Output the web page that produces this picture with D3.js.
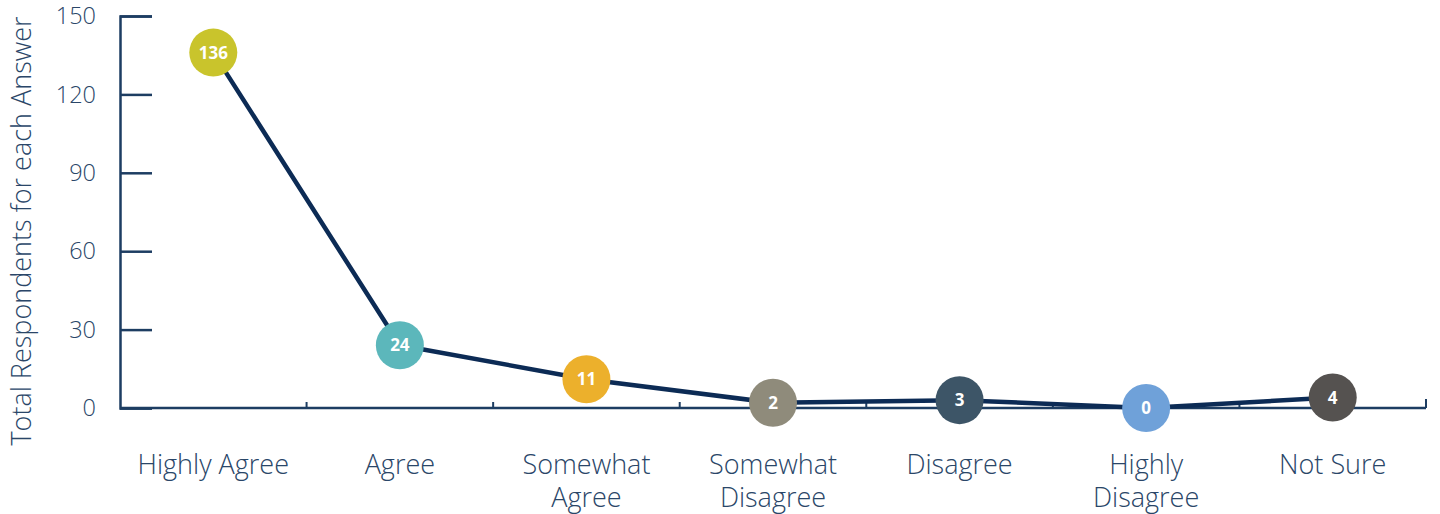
<!DOCTYPE html>
<html>
<head>
<meta charset="utf-8">
<script src="https://cdn.jsdelivr.net/npm/d3@7"></script>
<style>
  html, body { margin: 0; padding: 0; background: #ffffff; }
  svg { display: block; }
  text { font-family: "Open Sans", "Noto Sans", sans-serif; }
</style>
</head>
<body>
<svg id="chart" width="1440" height="514"></svg>
<script>
// Survey answers and counts
const categories = [
  ["Highly Agree"],
  ["Agree"],
  ["Somewhat", "Agree"],
  ["Somewhat", "Disagree"],
  ["Disagree"],
  ["Highly", "Disagree"],
  ["Not Sure"]
];
const respondents = [136, 24, 11, 2, 3, 0, 4];
const dotColors = ["#c9c42c", "#5cb7bb", "#ecb02c", "#8f8b7b", "#3d5567", "#6fa1d9", "#555250"];
const yTicks = [0, 30, 60, 90, 120, 150];
const yTitle = "Total Respondents for each Answer";

const axisColor = "#1d3d62";
const textColor = "#2a4668";
const lineColor = "#0c2b55";

const svg = d3.select("#chart");
const margin = { left: 120 };

const keys = categories.map(c => c.join(" "));
const x = d3.scaleBand().domain(keys).range([margin.left, 1426]).padding(0);
const y = d3.scaleLinear().domain([0, 150]).range([408, 16]);

// Y axis: ticks drawn inward toward the plot
const yAxis = svg.append("g")
  .attr("transform", `translate(${margin.left},0)`)
  .call(d3.axisRight(y).tickValues(yTicks).tickSize(32).tickFormat(""));
yAxis.select(".domain").attr("stroke", axisColor).attr("stroke-width", 2.5);
yAxis.selectAll(".tick line").attr("stroke", axisColor).attr("stroke-width", 2.5);

svg.append("g").selectAll("text")
  .data(yTicks)
  .join("text")
  .attr("x", 96)
  .attr("y", d => y(d))
  .attr("dy", "0.35em")
  .attr("text-anchor", "end")
  .attr("fill", textColor)
  .attr("font-size", 23.5)
  .attr("font-weight", 300)
  .text(d => d);

// X axis: baseline with short upward ticks at band boundaries
const boundaries = keys.slice(1).map(k => x(k)).concat([x.range()[1]]);
svg.append("line")
  .attr("x1", margin.left).attr("x2", x.range()[1])
  .attr("y1", y(0)).attr("y2", y(0))
  .attr("stroke", axisColor).attr("stroke-width", 2.5);
svg.append("g").selectAll("line")
  .data(boundaries)
  .join("line")
  .attr("x1", d => d).attr("x2", d => d)
  .attr("y1", y(0)).attr("y2", (d, i) => y(0) - (i === boundaries.length - 1 ? 9 : 6))
  .attr("stroke", axisColor).attr("stroke-width", 2);

// Category labels (one or two lines)
const catLabels = svg.append("g").selectAll("text")
  .data(categories)
  .join("text")
  .attr("x", (d, i) => x(keys[i]) + x.bandwidth() / 2)
  .attr("y", 474)
  .attr("text-anchor", "middle")
  .attr("fill", textColor)
  .attr("font-size", 27)
  .attr("font-weight", 300);
catLabels.selectAll("tspan")
  .data(d => d)
  .join("tspan")
  .attr("x", function () { return d3.select(this.parentNode).attr("x"); })
  .attr("dy", (d, i) => i === 0 ? 0 : 33)
  .text(d => d);

// Y axis title
svg.append("text")
  .attr("transform", `translate(31,231) rotate(-90)`)
  .attr("text-anchor", "middle")
  .attr("fill", textColor)
  .attr("font-size", 27)
  .attr("font-weight", 300)
  .text(yTitle);

// Connecting line
const pts = respondents.map((v, i) => [x(keys[i]) + x.bandwidth() / 2, y(v)]);
svg.append("path")
  .datum(pts)
  .attr("d", d3.line())
  .attr("fill", "none")
  .attr("stroke", lineColor)
  .attr("stroke-width", 4.5)
  .attr("stroke-linejoin", "round");

// Value markers
const dots = svg.append("g").selectAll("g")
  .data(respondents)
  .join("g")
  .attr("transform", (d, i) => `translate(${pts[i][0]},${pts[i][1]})`);
dots.append("circle")
  .attr("r", 24)
  .attr("fill", (d, i) => dotColors[i]);
dots.append("text")
  .attr("text-anchor", "middle")
  .attr("dy", "0.36em")
  .attr("fill", "#ffffff")
  .attr("font-size", 17)
  .attr("font-weight", 700)
  .text(d => d);
</script>
</body>
</html>
